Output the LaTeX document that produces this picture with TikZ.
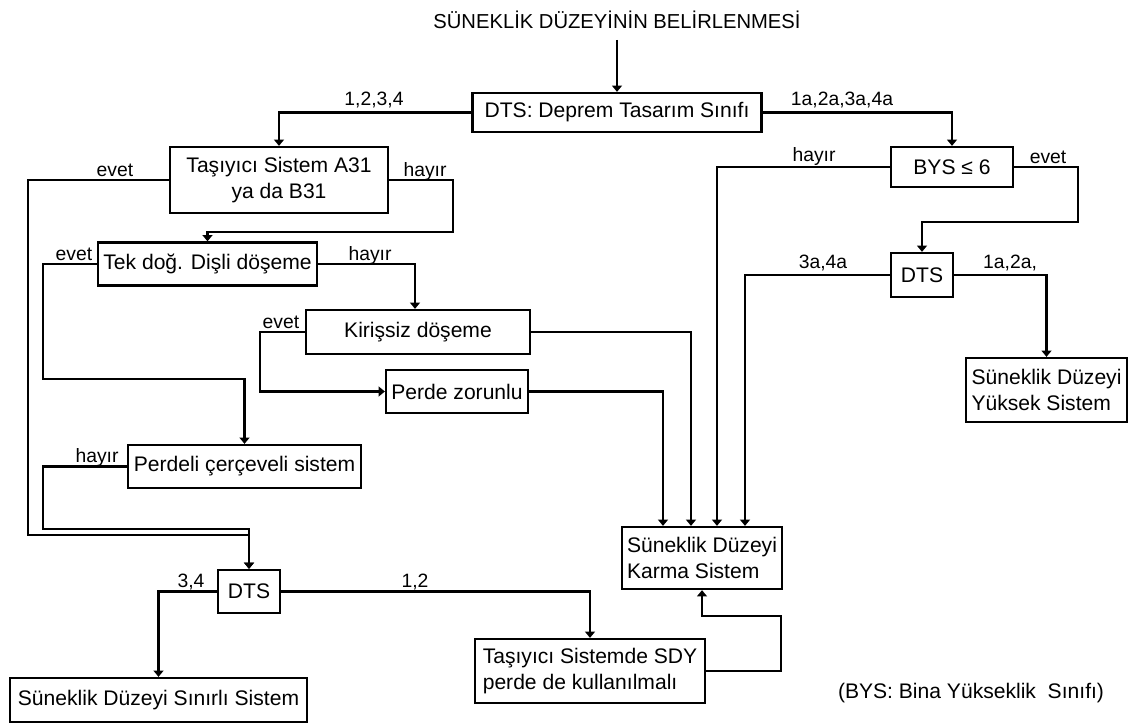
\documentclass[tikz,border=0pt]{standalone}
\usepackage{fontspec}
\setmainfont{Liberation Sans}
\usepackage{tikz}
\usetikzlibrary{arrows.meta,calc}

\begin{document}
\begin{tikzpicture}[x=0.02cm,y=-0.02cm]

% --- STYLES ---
\tikzset{
  titletext/.style={font=\fontsize{11.5}{14}\selectfont, inner xsep=0pt, inner ysep=6pt},
  process/.style={rectangle, draw=black, line width=1.3pt, fill=white,
                  font=\fontsize{12}{15}\selectfont, inner sep=2pt},
  flow/.style={black, line width=1.2pt, -{Triangle[length=3.5pt, width=5.5pt]}},
  branch/.style={font=\fontsize{11}{13}\selectfont, inner sep=0pt, anchor=base},
}

\useasboundingbox (0,0) rectangle (1131,723);

% ================= TITLE & FIRST DECISION =================
\node[titletext] (title) at (617,20) {SÜNEKLİK DÜZEYİNİN BELİRLENMESİ};

\node[process, minimum width=5.78cm, minimum height=0.78cm]
      (dts) at (617,112.5) {DTS: Deprem Tasarım Sınıfı};

% ================= LEFT BRANCH (1,2,3,4) =================
\node[process, minimum width=4.36cm, minimum height=1.32cm, align=center]
      (tasiyici) at (279,180) {Taşıyıcı Sistem A31\\ya da B31};
\node[process, minimum width=4.38cm, minimum height=0.86cm]
      (tekdog)   at (207.5,264) {Tek doğ. Dişli döşeme};
\node[process, minimum width=4.48cm, minimum height=0.88cm]
      (kirissiz) at (418,332) {Kirişsiz döşeme};
\node[process, minimum width=2.84cm, minimum height=0.86cm]
      (perdezor) at (457,391.5) {Perde zorunlu};
\node[process, minimum width=4.66cm, minimum height=0.86cm]
      (perdeli)  at (244.5,466.5) {Perdeli çerçeveli sistem};
\node[process, minimum width=1.24cm, minimum height=0.86cm]
      (dts3)     at (249,591.5) {DTS};
\node[process, minimum width=5.94cm, minimum height=0.88cm]
      (sinirli)  at (158.5,700) {Süneklik Düzeyi Sınırlı Sistem};
\node[process, minimum width=4.60cm, minimum height=1.28cm, align=left]
      (sdy)      at (590,671) {Taşıyıcı Sistemde SDY\\perde de kullanılmalı};

% ================= RIGHT BRANCH (1a,2a,3a,4a) =================
\node[process, minimum width=2.44cm, minimum height=0.80cm]
      (bys)    at (952,167) {BYS ≤ 6};
\node[process, minimum width=1.24cm, minimum height=0.88cm]
      (dts2)   at (922,275) {DTS};
\node[process, minimum width=3.22cm, minimum height=1.28cm, align=left]
      (yuksek) at (1046.5,390) {Süneklik Düzeyi\\Yüksek Sistem};
\node[process, minimum width=3.20cm, minimum height=1.24cm, align=left]
      (karma)  at (702,558) {Süneklik Düzeyi\\Karma Sistem};

\node[font=\fontsize{12}{14}\selectfont] (note) at (971,693)
      {(BYS: Bina Yükseklik~~Sınıfı)};

% ================= CONNECTORS =================
\draw[flow] (title.south) -- (dts.north);
\draw[flow] (dts.west) -| (tasiyici.north);
\draw[flow] (dts.east) -| (bys.north);

\draw[flow] (tasiyici.west) -| (28,535) -| (dts3.north);
\draw[flow] (tasiyici.east) -| (453,232) -| (tekdog.north);

\draw[flow] (tekdog.west) -| (43,379) -| (perdeli.north);
\draw[flow] (tekdog.east) -| ($(kirissiz.north)+(-3,0)$);

\draw[flow] (kirissiz.west) -| (260,391.5) -- (perdezor.west);
\draw[flow] (kirissiz.east) -| ($(karma.north)+(-11,0)$);
\draw[flow] (perdezor.east) -| ($(karma.north)+(-39,0)$);

\draw[flow] (perdeli.west) -| (43,529) -| (dts3.north);

\draw[flow] (bys.west) -| ($(karma.north)+(15,0)$);
\draw[flow] (bys.east) -| (1078,222) -| (dts2.north);
\draw[flow] (dts2.west) -| ($(karma.north)+(43,0)$);
\draw[flow] (dts2.east) -| (yuksek.north);

\draw[flow] (dts3.west) -| (sinirli.north);
\draw[flow] (dts3.east) -| (sdy.north);
\draw[flow] (sdy.east) -| (781,616) -| (karma.south);

% ================= BRANCH LABELS =================
\node[branch] at (374,106)  {1,2,3,4};
\node[branch] at (842,106)  {1a,2a,3a,4a};
\node[branch] at (115,176)  {evet};
\node[branch] at (425,176)  {hayır};
\node[branch] at (74,260)   {evet};
\node[branch] at (370,260)  {hayır};
\node[branch] at (281,328)  {evet};
\node[branch] at (97,462)   {hayır};
\node[branch] at (814,161)  {hayır};
\node[branch] at (1048,163) {evet};
\node[branch] at (823,268)  {3a,4a};
\node[branch] at (1010,268) {1a,2a,};
\node[branch] at (191,587)  {3,4};
\node[branch] at (415,587)  {1,2};

\end{tikzpicture}
\end{document}
